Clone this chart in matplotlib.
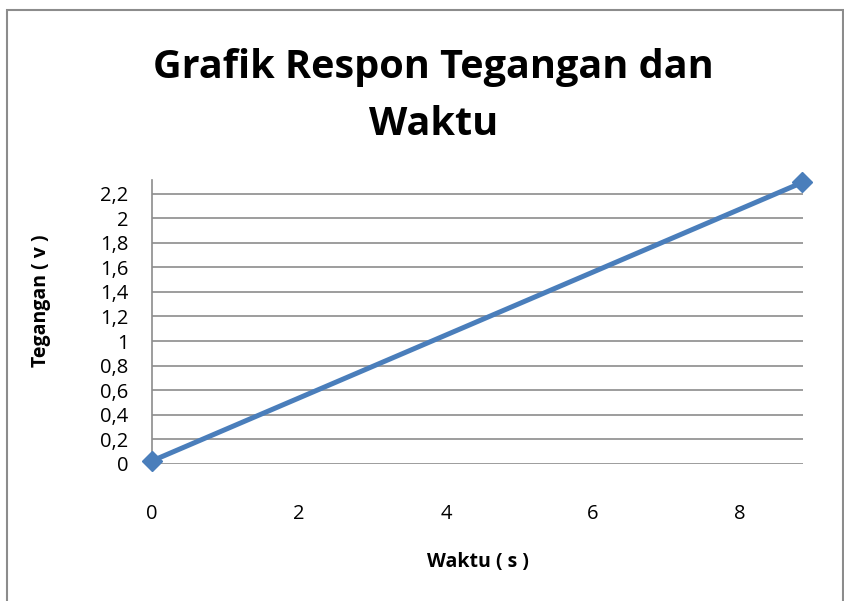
import numpy as np
import matplotlib
matplotlib.use('Agg')
import matplotlib.pyplot as plt
from matplotlib.ticker import FuncFormatter, MultipleLocator
from matplotlib.patches import Rectangle

# data
waktu = [0.0, 8.85]
tegangan = [0.025, 2.29]
x_ticks = [0, 2, 4, 6, 8]


def koma(v, pos):
    s = ('%.1f' % v).rstrip('0').rstrip('.')
    return s.replace('.', ',')


plt.rcParams['font.family'] = ['Open Sans', 'DejaVu Sans']

fig = plt.figure(figsize=(8.45, 6.01), dpi=100)
fig.patches.append(Rectangle((0.008, -0.01), 0.99, 0.993, transform=fig.transFigure,
                             fill=False, edgecolor='#8c8c8c', lw=1.5))

ax = fig.add_axes([0.1799, 0.228, 0.7704, 0.4725])
ax.plot(waktu, tegangan, color='#4a7ebb', lw=3.6, marker='D', markersize=10,
        clip_on=False, zorder=3)

ax.set_xlim(0, 8.86)
ax.set_ylim(0, 2.31)
ax.yaxis.set_major_locator(MultipleLocator(0.2))
ax.yaxis.set_major_formatter(FuncFormatter(koma))
ax.set_xticks(x_ticks)
ax.xaxis.set_major_formatter(FuncFormatter(koma))

ax.grid(axis='y', color='#8c8c8c', lw=1.2)
ax.set_axisbelow(True)
for s in ['top', 'right', 'bottom']:
    ax.spines[s].set_visible(False)
ax.spines['left'].set_color('#8c8c8c')
ax.spines['left'].set_linewidth(1.2)
ax.tick_params(axis='y', length=0, labelsize=14.5, pad=17)
ax.tick_params(axis='x', length=0, labelsize=14.5, pad=29)

ax.set_ylabel('Tegangan ( v )', fontsize=14, fontweight='bold')
ax.set_xlabel('Waktu ( s )', fontsize=14, fontweight='bold')
ax.yaxis.set_label_coords(-0.155, 0.574)
ax.xaxis.set_label_coords(0.5, -0.31)

fig.text(0.513, 0.84, 'Grafik Respon Tegangan dan\nWaktu', ha='center', va='center',
         fontsize=28.5, fontweight='bold', linespacing=1.6)

fig.savefig('out.png', dpi=100)
